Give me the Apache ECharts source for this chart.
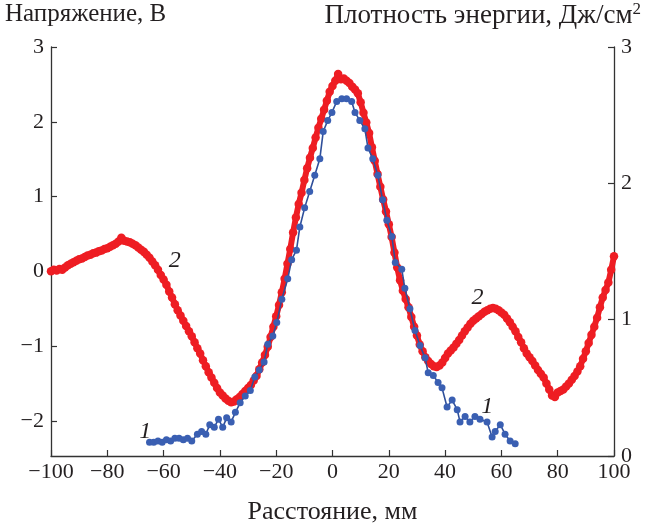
<!DOCTYPE html>
<html>
<head>
<meta charset="utf-8">
<script src="https://cdn.jsdelivr.net/npm/echarts@6/dist/echarts.min.js"></script>
<style>
  html, body { margin: 0; padding: 0; background: #fff; }
  #chart { width: 651px; height: 530px; }
</style>
</head>
<body>
<div id="chart"></div>
<script>
// Voltage profile (curve 2, left axis), sampled every 1 mm
var voltageX = [
  -100,-99,-98,-97,-96,-95,-94,-93,-92,-91,-90,-89,-88,-87,-86,-85,-84,-83,-82,-81,
  -80,-79,-78,-77,-76,-75,-74,-73,-72,-71,-70,-69,-68,-67,-66,-65,-64,-63,-62,-61,
  -60,-59,-58,-57,-56,-55,-54,-53,-52,-51,-50,-49,-48,-47,-46,-45,-44,-43,-42,-41,
  -40,-39,-38,-37,-36,-35,-34,-33,-32,-31,-30,-29,-28,-27,-26,-25,-24,-23,-22,-21,
  -20,-19,-18,-17,-16,-15,-14,-13,-12,-11,-10,-9,-8,-7,-6,-5,-4,-3,-2,-1,
  0,1,2,3,4,5,6,7,8,9,10,11,12,13,14,15,16,17,18,19,
  20,21,22,23,24,25,26,27,28,29,30,31,32,33,34,35,36,37,38,39,
  40,41,42,43,44,45,46,47,48,49,50,51,52,53,54,55,56,57,58,59,
  60,61,62,63,64,65,66,67,68,69,70,71,72,73,74,75,76,77,78,79,
  80,81,82,83,84,85,86,87,88,89,90,91,92,93,94,95,96,97,98,99,100
];
var voltageV = [
  0.00,0.02,0.01,0.03,0.02,0.05,0.08,0.10,0.12,0.14,0.16,0.17,0.19,0.21,0.22,0.24,0.25,0.27,0.28,0.30,
  0.31,0.33,0.35,0.37,0.40,0.45,0.41,0.40,0.39,0.37,0.35,0.32,0.29,0.26,0.22,0.18,0.13,0.08,0.02,-0.05,
  -0.11,-0.18,-0.27,-0.35,-0.44,-0.52,-0.59,-0.66,-0.73,-0.80,-0.87,-0.95,-1.03,-1.10,-1.19,-1.27,-1.35,-1.42,-1.49,-1.56,
  -1.62,-1.66,-1.70,-1.73,-1.75,-1.74,-1.71,-1.68,-1.64,-1.60,-1.56,-1.52,-1.46,-1.40,-1.31,-1.22,-1.12,-1.01,-0.88,-0.74,
  -0.60,-0.45,-0.28,-0.10,0.10,0.30,0.52,0.72,0.90,1.05,1.22,1.38,1.52,1.65,1.79,1.92,2.04,2.16,2.28,2.40,
  2.48,2.55,2.64,2.57,2.58,2.55,2.52,2.47,2.43,2.38,2.26,2.12,1.99,1.85,1.66,1.48,1.30,1.13,0.96,0.80,
  0.63,0.46,0.25,0.05,-0.12,-0.26,-0.37,-0.48,-0.61,-0.74,-0.86,-0.98,-1.07,-1.15,-1.20,-1.24,-1.27,-1.28,-1.26,-1.22,
  -1.16,-1.10,-1.06,-1.02,-0.97,-0.92,-0.86,-0.80,-0.75,-0.70,-0.66,-0.63,-0.60,-0.57,-0.54,-0.52,-0.50,-0.49,-0.50,-0.52,
  -0.55,-0.58,-0.63,-0.68,-0.74,-0.80,-0.88,-0.95,-1.03,-1.10,-1.15,-1.20,-1.26,-1.32,-1.37,-1.42,-1.50,-1.58,-1.66,-1.68,
  -1.62,-1.60,-1.58,-1.54,-1.50,-1.45,-1.40,-1.34,-1.27,-1.17,-1.07,-0.96,-0.85,-0.74,-0.62,-0.48,-0.35,-0.25,-0.15,0.02,0.20
];

// Energy density profile (curve 1, right axis)
var energyX = [
  -65,-63.5,-62,-60.5,-59,-57.5,-56,-54.5,-53,-51.5,-50,-48,-46.5,-45,-43.6,-42,-40.5,-39,-37.6,-36,
  -34.5,-32.8,-31,-29.2,-27.6,-26,-24.3,-23,-21.2,-19.8,-18,-15.9,-14.5,-12.8,-11.6,-9.9,-8.1,-6.3,-4.5,-3.3,
  -1.7,-0.2,1.5,3.3,5.0,6.8,8.0,9.7,11.5,12.6,14.3,16.1,17.8,19.3,21.1,22.3,24.6,25.7,27.5,29.3,
  31.1,32.9,34,35.8,37.5,38.9,40.7,42.5,44.3,45.3,47.1,48.8,50.6,52.4,54.9,56.7,57.8,59.6,61.3,63.1,64.9
];
var energyV = [
  0.10,0.10,0.11,0.10,0.12,0.11,0.13,0.13,0.12,0.13,0.11,0.16,0.18,0.16,0.23,0.21,0.27,0.21,0.28,0.25,
  0.32,0.39,0.44,0.48,0.58,0.63,0.69,0.82,0.88,0.98,1.15,1.30,1.44,1.51,1.68,1.82,1.94,2.06,2.18,2.38,
  2.46,2.52,2.60,2.62,2.62,2.60,2.52,2.46,2.40,2.26,2.18,2.06,1.88,1.73,1.61,1.42,1.37,1.23,1.08,0.92,
  0.81,0.72,0.61,0.59,0.54,0.50,0.36,0.41,0.34,0.25,0.29,0.25,0.29,0.27,0.25,0.14,0.18,0.23,0.16,0.11,0.09
];

var xTicks = [-100, -80, -60, -40, -20, 0, 20, 40, 60, 80, 100];
var leftTicks = [-2, -1, 0, 1, 2, 3];
var rightTicks = [0, 1, 2, 3];

function zip(xs, ys) {
  var out = [];
  for (var i = 0; i < xs.length; i++) out.push([xs[i], ys[i]]);
  return out;
}
function fmt(v) {
  return v < 0 ? '\u2212' + Math.abs(v) : String(v);
}

var FONT = '"Liberation Serif", "DejaVu Serif", serif';
var AXIS_COLOR = '#333';
var TEXT_COLOR = '#231f20';
var RED = '#ee1d23';

var chart = echarts.init(document.getElementById('chart'), null, { renderer: 'canvas' });

function axisLine() {
  return { show: true, onZero: false, lineStyle: { color: AXIS_COLOR, width: 1.3 } };
}
function ticks(values) {
  var t = { show: true, inside: true, length: 6, lineStyle: { color: AXIS_COLOR, width: 1.2 } };
  if (values) t.customValues = values;
  return t;
}
function labels(values) {
  var l = { margin: 7, formatter: fmt, fontFamily: FONT, fontSize: 22, color: TEXT_COLOR };
  if (values) l.customValues = values;
  return l;
}

var voltagePoints = zip(voltageX, voltageV);

chart.setOption({
  animation: false,
  backgroundColor: '#fff',
  grid: { left: 51, right: 37, top: 47, bottom: 68, containLabel: false },
  xAxis: {
    type: 'value', min: -100, max: 100, interval: 20,
    axisLine: axisLine(),
    axisTick: ticks(xTicks),
    axisLabel: Object.assign(labels(xTicks), { margin: 5 }),
    splitLine: { show: false },
    name: 'Расстояние, мм', nameLocation: 'middle', nameGap: 43,
    nameTextStyle: { fontFamily: FONT, fontSize: 26, color: TEXT_COLOR }
  },
  yAxis: [
    {
      type: 'value', min: -2.47, max: 3, position: 'left',
      axisLine: axisLine(),
      axisTick: ticks(leftTicks),
      axisLabel: labels(leftTicks),
      splitLine: { show: false }
    },
    {
      type: 'value', min: 0, max: 3, interval: 1, position: 'right',
      axisLine: axisLine(),
      axisTick: ticks(rightTicks),
      axisLabel: labels(rightTicks),
      splitLine: { show: false }
    }
  ],
  graphic: [
    { type: 'text', left: 5, top: 2, style: { text: 'Напряжение, В', font: '25px ' + FONT, fill: TEXT_COLOR } },
    {
      type: 'text', right: 10, top: 1,
      style: {
        text: '{a|Плотность энергии, Дж/см}{s|2}',
        rich: {
          a: { fontFamily: FONT, fontSize: 27, fill: TEXT_COLOR, color: TEXT_COLOR, verticalAlign: 'bottom' },
          s: { fontFamily: FONT, fontSize: 17, fill: TEXT_COLOR, color: TEXT_COLOR, padding: [0, 0, 11, 0], verticalAlign: 'bottom' }
        }
      }
    }
  ],
  series: [
    {
      name: 'energy', type: 'line', yAxisIndex: 1,
      data: zip(energyX, energyV),
      symbol: 'circle', symbolSize: 7, showSymbol: true,
      itemStyle: { color: '#3a5fb2' },
      lineStyle: { color: '#2f4f9a', width: 1.6 },
      z: 4,
      markPoint: {
        symbol: 'rect', symbolSize: 1, itemStyle: { color: 'transparent' },
        label: { show: true, formatter: '1', fontFamily: FONT, fontStyle: 'italic', fontSize: 24, color: TEXT_COLOR },
        data: [ { coord: [-66.5, 0.18] }, { coord: [55, 0.36] } ]
      }
    },
    {
      // continuous band underneath the measured voltage points
      name: 'voltageBand', type: 'line', yAxisIndex: 0,
      data: voltagePoints,
      showSymbol: false, symbol: 'none', silent: true,
      lineStyle: { color: RED, width: 6 },
      z: 2
    },
    {
      name: 'voltage', type: 'line', yAxisIndex: 0,
      data: voltagePoints,
      symbol: 'circle', symbolSize: 8.5, showSymbol: true,
      itemStyle: { color: RED },
      lineStyle: { width: 0 },
      z: 3,
      markPoint: {
        symbol: 'rect', symbolSize: 1, itemStyle: { color: 'transparent' },
        label: { show: true, formatter: '2', fontFamily: FONT, fontStyle: 'italic', fontSize: 24, color: TEXT_COLOR },
        data: [ { coord: [-56, 0.14] }, { coord: [51.5, -0.35] } ]
      }
    }
  ]
});
</script>
</body>
</html>
